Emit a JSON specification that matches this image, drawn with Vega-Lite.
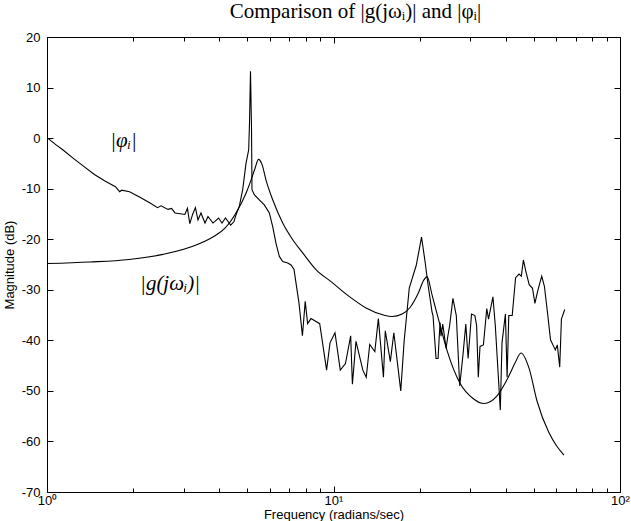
{
  "$schema": "https://vega.github.io/schema/vega-lite/v6.json",
  "width": 573,
  "height": 455,
  "autosize": {"type": "none"},
  "padding": {"left": 47, "top": 37, "right": 11, "bottom": 29},
  "background": "white",
  "config": {
    "view": {"stroke": "black", "strokeWidth": 1},
    "axis": {
      "labelFont": "Liberation Sans",
      "titleFont": "Liberation Sans",
      "labelColor": "black",
      "titleColor": "black",
      "ticks": true,
      "tickColor": "black",
      "tickWidth": 1,
      "domain": false,
      "grid": false,
      "titleFontWeight": "normal",
      "labelFontSize": 13,
      "titleFontSize": 13,
      "labelOverlap": false,
      "labelFlush": false
    }
  },
  "title": {
    "text": "Comparison of |g(jωᵢ)| and |φᵢ|",
    "font": "Liberation Serif",
    "fontSize": 21,
    "fontWeight": "normal",
    "color": "black",
    "anchor": "middle",
    "offset": 9,
    "dx": 22
  },
  "datasets": {
    "g": [
      {"freq": 1.0, "db": -24.8}, {"freq": 1.413, "db": -24.5}, {"freq": 1.933, "db": -24}, {"freq": 2.541, "db": -23},
      {"freq": 3.366, "db": -21}, {"freq": 3.858, "db": -19.3}, {"freq": 4.181, "db": -17.8}, {"freq": 4.567, "db": -14.8},
      {"freq": 4.95, "db": -10.9}, {"freq": 5.153, "db": -8.3}, {"freq": 5.321, "db": -6}, {"freq": 5.473, "db": -4.2},
      {"freq": 5.629, "db": -5.2}, {"freq": 5.814, "db": -8.3}, {"freq": 6.135, "db": -12.2}, {"freq": 6.649, "db": -16.8},
      {"freq": 7.205, "db": -20.1}, {"freq": 7.808, "db": -22.7}, {"freq": 8.688, "db": -26}, {"freq": 9.856, "db": -28.5},
      {"freq": 11.33, "db": -31.3}, {"freq": 12.99, "db": -33.6}, {"freq": 14.94, "db": -35}, {"freq": 16.01, "db": -35.3},
      {"freq": 17.35, "db": -34.8}, {"freq": 18.5, "db": -33.5}, {"freq": 19.72, "db": -30.8}, {"freq": 20.7, "db": -28},
      {"freq": 21.21, "db": -27.4}, {"freq": 22.08, "db": -31}, {"freq": 23.54, "db": -37}, {"freq": 24.9, "db": -42},
      {"freq": 27.64, "db": -48.5}, {"freq": 30.69, "db": -51.5}, {"freq": 33.52, "db": -52.5}, {"freq": 37.21, "db": -51},
      {"freq": 40.65, "db": -47.4}, {"freq": 43.0, "db": -44.5}, {"freq": 45.13, "db": -42.5}, {"freq": 48.13, "db": -45.5},
      {"freq": 51.32, "db": -52}, {"freq": 56.52, "db": -58.3}, {"freq": 60.28, "db": -61}, {"freq": 63.75, "db": -62.7}
    ],
    "phi": [
      {"freq": 1.0, "db": 0.1}, {"freq": 1.073, "db": -1.3}, {"freq": 1.135, "db": -2.3}, {"freq": 1.236, "db": -4.0},
      {"freq": 1.344, "db": -5.6}, {"freq": 1.464, "db": -7.2}, {"freq": 1.593, "db": -8.5}, {"freq": 1.733, "db": -9.6},
      {"freq": 1.793, "db": -10.6}, {"freq": 1.823, "db": -10.3}, {"freq": 1.941, "db": -10.6}, {"freq": 2.111, "db": -11.7},
      {"freq": 2.298, "db": -12.9}, {"freq": 2.431, "db": -13.75}, {"freq": 2.5, "db": -13.4}, {"freq": 2.645, "db": -14.1},
      {"freq": 2.722, "db": -13.9}, {"freq": 2.798, "db": -14.8}, {"freq": 2.959, "db": -15.0}, {"freq": 3.029, "db": -15.1},
      {"freq": 3.091, "db": -13.9}, {"freq": 3.151, "db": -16.9}, {"freq": 3.222, "db": -15.1}, {"freq": 3.296, "db": -13.75},
      {"freq": 3.365, "db": -16.2}, {"freq": 3.447, "db": -14.8}, {"freq": 3.56, "db": -16.8}, {"freq": 3.647, "db": -15.5},
      {"freq": 3.796, "db": -16.8}, {"freq": 3.971, "db": -15.8}, {"freq": 4.081, "db": -16.8}, {"freq": 4.197, "db": -15.8},
      {"freq": 4.377, "db": -17.2}, {"freq": 4.495, "db": -16.5}, {"freq": 4.567, "db": -15.2}, {"freq": 4.69, "db": -13.5},
      {"freq": 4.82, "db": -10.2}, {"freq": 4.95, "db": -5}, {"freq": 5.058, "db": -2.3}, {"freq": 5.091, "db": 3},
      {"freq": 5.132, "db": 13.2}, {"freq": 5.174, "db": 2}, {"freq": 5.194, "db": -10.2}, {"freq": 5.291, "db": -11.2},
      {"freq": 5.508, "db": -12.2}, {"freq": 5.734, "db": -13.2}, {"freq": 5.97, "db": -14.8}, {"freq": 6.135, "db": -17.5},
      {"freq": 6.3, "db": -20.8}, {"freq": 6.47, "db": -23.4}, {"freq": 6.649, "db": -24.4}, {"freq": 6.921, "db": -24.7},
      {"freq": 7.108, "db": -25.1}, {"freq": 7.281, "db": -26}, {"freq": 7.58, "db": -32.7}, {"freq": 7.79, "db": -39.1},
      {"freq": 7.967, "db": -32.3}, {"freq": 8.122, "db": -36.7}, {"freq": 8.347, "db": -35.7}, {"freq": 8.95, "db": -36.7},
      {"freq": 9.46, "db": -45.9}, {"freq": 9.723, "db": -40.5}, {"freq": 10.12, "db": -38.5}, {"freq": 10.56, "db": -45.9},
      {"freq": 11.01, "db": -44.6}, {"freq": 11.48, "db": -39.1}, {"freq": 11.64, "db": -48.7}, {"freq": 11.98, "db": -40.2},
      {"freq": 12.66, "db": -45.9}, {"freq": 13.01, "db": -47.3}, {"freq": 13.38, "db": -40.8}, {"freq": 13.94, "db": -42.2},
      {"freq": 14.34, "db": -35.7}, {"freq": 14.94, "db": -47.3}, {"freq": 15.16, "db": -38.1}, {"freq": 15.79, "db": -44.2},
      {"freq": 16.24, "db": -38.5}, {"freq": 17.17, "db": -50}, {"freq": 17.64, "db": -40.2}, {"freq": 18.39, "db": -29.6},
      {"freq": 19.44, "db": -25.2}, {"freq": 20.29, "db": -19.6}, {"freq": 20.87, "db": -24.4}, {"freq": 21.38, "db": -29},
      {"freq": 22.08, "db": -34.4}, {"freq": 22.25, "db": -35.1}, {"freq": 22.8, "db": -43.6}, {"freq": 23.17, "db": -43.6},
      {"freq": 23.54, "db": -36.5}, {"freq": 23.73, "db": -39.2}, {"freq": 24.06, "db": -36.8}, {"freq": 24.72, "db": -41.6},
      {"freq": 25.06, "db": -39.2}, {"freq": 25.43, "db": -37.1}, {"freq": 26.11, "db": -31.7}, {"freq": 26.83, "db": -35.1},
      {"freq": 27.58, "db": -49}, {"freq": 28.34, "db": -42.6}, {"freq": 28.96, "db": -36.8}, {"freq": 29.5, "db": -43.6},
      {"freq": 29.91, "db": -39.2}, {"freq": 30.32, "db": -34.8}, {"freq": 31.16, "db": -35.1}, {"freq": 31.59, "db": -37.1},
      {"freq": 32.02, "db": -47.3}, {"freq": 32.46, "db": -41.2}, {"freq": 33.36, "db": -40.9}, {"freq": 34.28, "db": -33.7},
      {"freq": 34.76, "db": -35.8}, {"freq": 36.01, "db": -31.4}, {"freq": 36.71, "db": -37.1}, {"freq": 37.69, "db": -48},
      {"freq": 38.21, "db": -53.8}, {"freq": 38.74, "db": -40.5}, {"freq": 39.81, "db": -34.8}, {"freq": 40.36, "db": -47.3},
      {"freq": 40.91, "db": -35.1}, {"freq": 42.05, "db": -35.1}, {"freq": 43.21, "db": -27.6}, {"freq": 44.41, "db": -26.9},
      {"freq": 45.24, "db": -27.3}, {"freq": 46.01, "db": -24.1}, {"freq": 46.9, "db": -26.3}, {"freq": 48.2, "db": -29},
      {"freq": 49.5, "db": -29.7}, {"freq": 50.46, "db": -32.7}, {"freq": 51.57, "db": -30.3}, {"freq": 53.3, "db": -27.3},
      {"freq": 54.47, "db": -29.3}, {"freq": 55.98, "db": -35.1}, {"freq": 57.21, "db": -39.9}, {"freq": 58.32, "db": -40.9},
      {"freq": 59.46, "db": -41.9}, {"freq": 60.42, "db": -40.9}, {"freq": 61.6, "db": -45.3}, {"freq": 62.45, "db": -35.8},
      {"freq": 64.13, "db": -33.9}
    ],
    "labels": [
      {"freq": 1.85, "db": -0.5, "label": "|φᵢ|"},
      {"freq": 2.69, "db": -28.8, "label": "|g(jωᵢ)|"}
    ]
  },
  "layer": [
    {
      "data": {"name": "g"},
      "mark": {"type": "line", "color": "black", "strokeWidth": 1.1, "interpolate": "monotone"},
      "encoding": {
        "x": {
          "field": "freq", "type": "quantitative",
          "scale": {"type": "log", "domain": [1, 100], "nice": false},
          "axis": {
            "orient": "bottom",
            "values": [1, 2, 3, 4, 5, 6, 7, 8, 9, 10, 20, 30, 40, 50, 60, 70, 80, 90, 100],
            "labelExpr": "datum.value == 1 ? '10⁰' : datum.value == 10 ? '10¹' : datum.value == 100 ? '10²' : ''",
            "tickSize": {"condition": {"test": "datum.value == 1 || datum.value == 10 || datum.value == 100", "value": -6}, "value": -4},
            "labelPadding": 8,
            "title": "Frequency (radians/sec)",
            "titlePadding": -1
          }
        },
        "y": {
          "field": "db", "type": "quantitative",
          "scale": {"domain": [-70, 20], "nice": false, "zero": false},
          "axis": {
            "orient": "left",
            "values": [-70, -60, -50, -40, -30, -20, -10, 0, 10, 20],
            "labelExpr": "'' + datum.value",
            "tickSize": -6,
            "labelPadding": 13,
            "title": "Magnitude (dB)",
            "titlePadding": 5
          }
        }
      }
    },
    {
      "data": {"name": "phi"},
      "mark": {"type": "line", "color": "black", "strokeWidth": 1.1},
      "encoding": {
        "x": {
          "field": "freq", "type": "quantitative",
          "axis": {
            "orient": "top",
            "values": [1, 2, 3, 4, 5, 6, 7, 8, 9, 10, 20, 30, 40, 50, 60, 70, 80, 90, 100],
            "labels": false,
            "title": null,
            "tickSize": {"condition": {"test": "datum.value == 1 || datum.value == 10 || datum.value == 100", "value": -6}, "value": -4}
          }
        },
        "y": {
          "field": "db", "type": "quantitative",
          "axis": {
            "orient": "right",
            "values": [-70, -60, -50, -40, -30, -20, -10, 0, 10, 20],
            "labels": false,
            "title": null,
            "tickSize": -6
          }
        }
      }
    },
    {
      "data": {"name": "labels"},
      "mark": {"type": "text", "font": "Liberation Serif", "fontStyle": "italic", "fontSize": 21, "color": "black"},
      "encoding": {
        "x": {"field": "freq", "type": "quantitative", "axis": null},
        "y": {"field": "db", "type": "quantitative", "axis": null},
        "text": {"field": "label"}
      }
    }
  ],
  "resolve": {"axis": {"x": "independent", "y": "independent"}}
}
